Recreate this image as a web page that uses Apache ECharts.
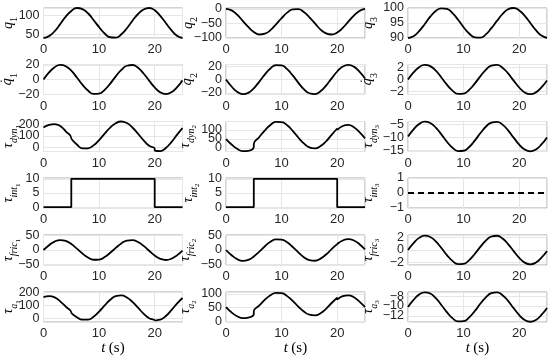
<!DOCTYPE html>
<html><head><meta charset="utf-8">
<script src="https://cdn.jsdelivr.net/npm/echarts@6/dist/echarts.min.js"></script>
<style>html,body{margin:0;padding:0;background:#fff}#c{width:550px;height:361px}</style>
</head><body><div id="c"></div>
<script>
// time bases
const t   = [0,1,2,3,4,5,6,7,8,9,10,11,12,13,14,15,16,17,18,19,20,21,22,23,24,25];
const tK  = [0,1,2,3,4,5,5,6,7,8,9,10,11,12,13,14,15,16,17,18,19,20,20,21,22,23,24,25];
const tInt = [0,5,5,20,20,25];

// joint positions
const q1 = [40,45,58,77,97,112,120,117,106,88,69,52,42,41,50,66,86,104,116,120,114,99,80,61,46,40];
const q2 = [0,-5,-20,-41,-62,-79,-88,-85,-73,-53,-32,-13,-2,-1,-11,-29,-50,-71,-84,-88,-81,-65,-44,-23,-7,0];
const q3 = [90,90.6,92.3,94.6,97.1,99,99.9,99.7,98.3,96.1,93.6,91.5,90.2,90.1,91.2,93.3,95.7,98,99.6,100,99.2,97.4,95,92.6,90.8,90];
// joint velocities
const dq1 = [0,9.6,16.8,20,18.2,12,2.8,-7,-15.1,-19.6,-19.2,-14.1,-5.6,4.3,13.1,18.8,19.8,16,8.2,-1.5,-10.9,-17.6,-20,-17.5,-10.7,-1.3];
const dq2 = [0,-10.5,-18.5,-21.9,-20,-13.2,-3.1,7.7,16.6,21.5,21.1,15.5,6.1,-4.7,-14.5,-20.6,-21.8,-17.6,-9.1,1.7,12,19.4,22,19.3,11.8,1.5];
const dq3 = [0,1.2,2.1,2.49,2.27,1.5,0.35,-0.88,-1.89,-2.44,-2.4,-1.76,-0.7,0.54,1.64,2.35,2.47,2,1.03,-0.19,-1.36,-2.2,-2.5,-2.19,-1.34,-0.17];
// dynamic torques (tK base)
const dyn1 = [176,199,206,190,142,80,74,23,-11,-11,15,63,121,175,215,230,216,176,120,60,12,-13,-30,-36,-8,45,110,170];
const dyn2 = [49,19,-5,-18,-16,8,22,61,98,128,145,144,126,95,58,25,3,-3,10,37,73,108,100,122,128,115,88,53];
const dyn3 = [-9.6,-6.82,-4.72,-3.81,-4.33,-6.13,-8.78,-11.63,-13.99,-15.27,-15.16,-13.69,-11.22,-8.35,-5.79,-4.16,-3.86,-4.97,-7.21,-10.04,-12.76,-14.7,-15.4,-14.68,-12.71,-9.98];
// interaction torques (tInt base)
const int1 = [0,0,10,10,0,0];
const int2 = [0,0,10,10,0,0];
const int3 = [0,0,0,0,0,0];
// friction torques
const fric1 = [0,16.8,29.5,34.9,31.8,20.9,4.9,-12.3,-26.5,-34.2,-33.6,-24.7,-9.8,7.5,23,32.8,34.6,27.9,14.4,-2.6,-19,-30.8,-35,-30.6,-18.8,-2.3];
const fric2 = [0,-18.2,-32,-37.9,-34.6,-22.7,-5.4,13.3,28.8,37.1,36.4,26.8,10.6,-8.2,-25,-35.6,-37.6,-30.3,-15.7,2.9,20.7,33.4,38,33.3,20.4,2.5];
const fric3 = [0,1.1,1.94,2.29,2.09,1.38,0.32,-0.81,-1.74,-2.25,-2.21,-1.62,-0.64,0.49,1.51,2.16,2.28,1.84,0.95,-0.17,-1.25,-2.02,-2.3,-2.01,-1.23,-0.15];
// actuator torques
const a1 = [165,172,163,132,90,45,40,8,-12,-12,11,52,100,144,172,178,162,127,82,36,0,-17,-20,-12,17,63,114,158];
const a2 = [52,33,19,12,14,27,37,58,79,95,104,103,92,75,54,36,24.5,22,30,46,67,86,79,92,95,88,72,52];
const a3 = [-10.2,-8.76,-7.68,-7.21,-7.47,-8.4,-9.78,-11.25,-12.47,-13.13,-13.08,-12.32,-11.04,-9.55,-8.23,-7.39,-7.23,-7.8,-8.96,-10.43,-11.83,-12.84,-13.2,-12.83,-11.81,-10.4];

// tick labels
const xTicks = [0,10,20];
const ticksQ1 = [50,100], ticksQ2 = [-100,-50,0], ticksQ3 = [90,95,100];
const ticksDq12 = [-20,0,20], ticksDq3 = [-2,0,2];
const ticksDyn1 = [0,100,200], ticksDyn2 = [0,50,100], ticksDyn3 = [-15,-10,-5];
const ticksInt12 = [0,5,10], ticksInt3 = [-1,0,1];
const ticksFric12 = [-50,0,50], ticksFric3 = [-2,0,2];
const ticksA1 = [0,100,200], ticksA2 = [0,50,100], ticksA3 = [-12,-10,-8];

const panels = [
  {name:'{m|q}{d|1}', x:t, y:q1, min:40, max:120, ticks:ticksQ1},
  {name:'{m|q}{d|2}', x:t, y:q2, min:-100, max:3, ticks:ticksQ2},
  {name:'{m|q}{d|3}', x:t, y:q3, min:90, max:100, ticks:ticksQ3},
  {name:'{md|q\u0307}{d|1}', x:t, y:dq1, min:-20.5, max:20.5, ticks:ticksDq12},
  {name:'{md|q\u0307}{d|2}', x:t, y:dq2, min:-22.5, max:22.5, ticks:ticksDq12},
  {name:'{md|q\u0307}{d|3}', x:t, y:dq3, min:-2.55, max:2.55, ticks:ticksDq3},
  {name:'{m|τ}{s|dyn}{dd|1}', x:tK, y:dyn1, min:-40, max:230, ticks:ticksDyn1},
  {name:'{m|τ}{s|dyn}{dd|2}', x:tK, y:dyn2, min:-20, max:147, ticks:ticksDyn2},
  {name:'{m|τ}{s|dyn}{dd|3}', x:t, y:dyn3, min:-15.45, max:-3.75, ticks:ticksDyn3},
  {name:'{m|τ}{s|int}{dd|1}', x:tInt, y:int1, min:-0.3, max:10.3, ticks:ticksInt12, sharp:true},
  {name:'{m|τ}{s|int}{dd|2}', x:tInt, y:int2, min:-0.3, max:10.3, ticks:ticksInt12, sharp:true},
  {name:'{m|τ}{s|int}{dd|3}', x:tInt, y:int3, min:-1, max:1, ticks:ticksInt3, sharp:true, dash:true},
  {name:'{m|τ}{s|fric}{dd|1}', x:t, y:fric1, min:-52.5, max:52.5, ticks:ticksFric12},
  {name:'{m|τ}{s|fric}{dd|2}', x:t, y:fric2, min:-52.5, max:52.5, ticks:ticksFric12},
  {name:'{m|τ}{s|fric}{dd|3}', x:t, y:fric3, min:-2.4, max:2.4, ticks:ticksFric3},
  {name:'{m|τ}{s|a}{dd|1}', x:tK, y:a1, min:-30, max:205, ticks:ticksA1},
  {name:'{m|τ}{s|a}{dd|2}', x:tK, y:a2, min:-2, max:107, ticks:ticksA2},
  {name:'{m|τ}{s|a}{dd|3}', x:t, y:a3, min:-13.25, max:-7.15, ticks:ticksA3}
];

const fmt = v => (v < 0 ? '\u2212' + Math.abs(v) : String(v));
const has = (arr, v) => arr.some(k => Math.abs(k - v) < 1e-6);

const colLeft = [43.5, 226, 408], colW = 139;
const rowTop = [8, 64.5, 121.5, 178, 235, 292], rowH = 30;
const serif = 'Liberation Serif';
const nameRich = {
  m:  {fontFamily:serif, fontStyle:'italic', fontSize:14, lineHeight:14, verticalAlign:'top', color:'#000'},
  md: {fontFamily:'DejaVu Serif', fontStyle:'italic', fontSize:12.5, lineHeight:14, verticalAlign:'top', color:'#000'},
  s:  {fontFamily:serif, fontStyle:'italic', fontSize:10, lineHeight:10, verticalAlign:'top', padding:[8,0,0,0], color:'#000'},
  d:  {fontFamily:serif, fontSize:10, lineHeight:10, verticalAlign:'top', padding:[8,0,0,0], color:'#000'},
  dd: {fontFamily:serif, fontSize:7, lineHeight:7, verticalAlign:'top', padding:[13,0,0,0], color:'#000'}
};
const labelStyle = {fontFamily:'Liberation Sans', fontSize:12.5, color:'#262626'};

const grids = [], xAxes = [], yAxes = [], series = [];
panels.forEach((p, i) => {
  const r = Math.floor(i / 3), c = i % 3;
  const gap = c === 0 ? 35 : (c === 1 ? ((r >= 2 && r !== 3) ? 41 : 38) : 40);
  grids.push({left:colLeft[c], top:rowTop[r], width:colW, height:rowH, show:true,
    borderColor:'#a8a8a8', borderWidth:1, backgroundColor:'#fff', containLabel:false, outerBoundsMode:'none'});
  xAxes.push({type:'value', gridIndex:i, min:0, max:25, interval:10,
    axisLine:{show:false}, axisTick:{show:false},
    splitLine:{show:true, lineStyle:{color:'#e6e6e6', width:1}},
    axisLabel:Object.assign({margin:5, formatter:v => has(xTicks, v) ? fmt(v) : ''}, labelStyle, {fontSize:13}),
    name: r === 5 ? '{i|t} {u|(s)}' : '', nameLocation:'middle', nameGap:18,
    nameTextStyle:{rich:{i:{fontFamily:serif, fontStyle:'italic', fontSize:15, color:'#000'},
                         u:{fontFamily:serif, fontSize:15, color:'#000'}}}
  });
  const step = p.ticks[1] - p.ticks[0];
  yAxes.push({type:'value', gridIndex:i, min:p.min, max:p.max, minInterval:step, maxInterval:step, splitNumber:2,
    axisLine:{show:false}, axisTick:{show:false},
    splitLine:{show:true, lineStyle:{color:'#e6e6e6', width:1}},
    axisLabel:Object.assign({margin:4, formatter:v => has(p.ticks, v) ? fmt(v) : ''}, labelStyle),
    name:p.name, nameLocation:'middle', nameRotate:90, nameGap:gap, nameMoveOverlap:false,
    nameTextStyle:{rich:nameRich, align:'center', verticalAlign:'middle'}
  });
  series.push({type:'line', xAxisIndex:i, yAxisIndex:i, data:p.x.map((x, k) => [x, p.y[k]]),
    showSymbol:false, smooth:p.sharp ? false : 0.5, clip:false, silent:true,
    lineStyle:{color:'#000', width:1.8, type:p.dash ? [6, 4] : 'solid'}});
});

const chart = echarts.init(document.getElementById('c'), null, {renderer:'canvas'});
chart.setOption({animation:false, backgroundColor:'#fff', grid:grids, xAxis:xAxes, yAxis:yAxes, series:series});
</script>
</body></html>
